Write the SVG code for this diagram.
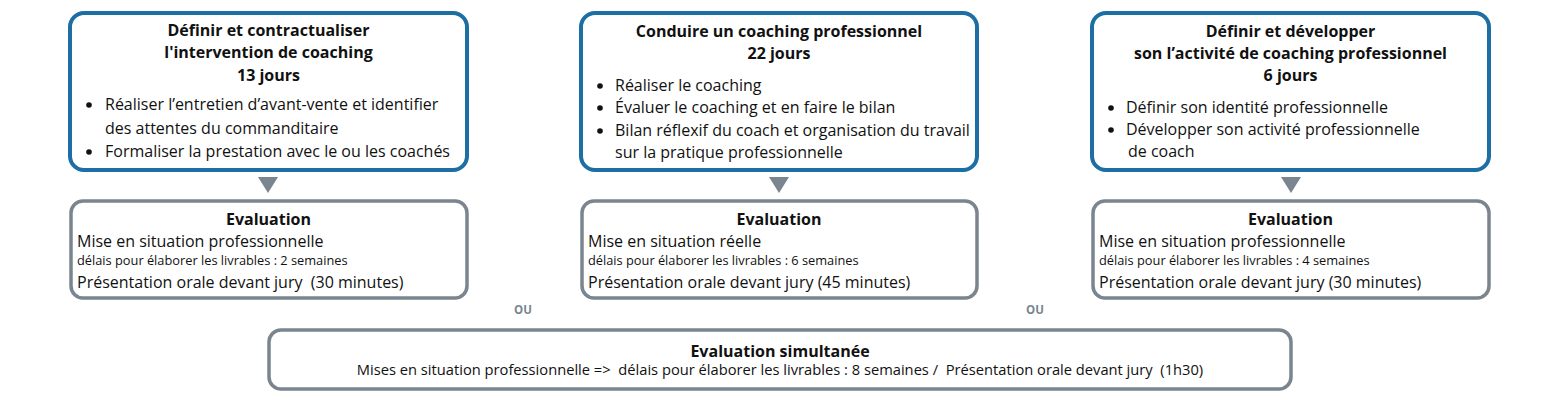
<svg xmlns="http://www.w3.org/2000/svg" width="1560" height="400" viewBox="0 0 1560 400">
<style>
.top{fill:#fff;stroke:#1c6ea4;stroke-width:4}
.ev{fill:#fff;stroke:#7a858f;stroke-width:3.5}
text{font-family:"Open Sans","Noto Sans","Liberation Sans",sans-serif;fill:#111;white-space:pre}
.t{font-size:16px;font-weight:bold;text-anchor:middle}
.b{font-size:16px}
.s{font-size:12.8px}
.ou{font-size:11.5px;font-weight:bold;fill:#7a858f;text-anchor:middle}
.arr{fill:#7a858f}
</style>
<g id="connectors">
<polygon class="arr" points="258,177 278,177 268,193"/>
<polygon class="arr" points="769,177 789,177 779,193"/>
<polygon class="arr" points="1281,177 1301,177 1291,193"/>
</g>
<g id="module1">
<rect class="top" x="70" y="13" width="397" height="157" rx="14"/>
<text class="t" x="268.5" y="36">Définir et contractualiser</text>
<text class="t" x="268.5" y="58">l'intervention de coaching</text>
<text class="t" x="268.5" y="81">13 jours</text>
<circle cx="89" cy="105" r="2.8" fill="#111"/>
<text class="b" x="105" y="110">Réaliser l’entretien d’avant-vente et identifier</text>
<text class="b" x="105" y="134">des attentes du commanditaire</text>
<circle cx="89" cy="152" r="2.8" fill="#111"/>
<text class="b" x="105" y="157">Formaliser la prestation avec le ou les coachés</text>
</g>
<g id="module2">
<rect class="top" x="581" y="13" width="396" height="157" rx="14"/>
<text class="t" x="779" y="37">Conduire un coaching professionnel</text>
<text class="t" x="779" y="59">22 jours</text>
<circle cx="600" cy="86" r="2.8" fill="#111"/>
<text class="b" x="615" y="91">Réaliser le coaching</text>
<circle cx="600" cy="108" r="2.8" fill="#111"/>
<text class="b" x="615" y="113">Évaluer le coaching et en faire le bilan</text>
<circle cx="600" cy="131" r="2.8" fill="#111"/>
<text class="b" x="615" y="136">Bilan réflexif du coach et organisation du travail</text>
<text class="b" x="615" y="158">sur la pratique professionnelle</text>
</g>
<g id="module3">
<rect class="top" x="1092" y="13" width="397" height="157" rx="14"/>
<text class="t" x="1290.5" y="37">Définir et développer</text>
<text class="t" x="1290.5" y="59">son l’activité de coaching professionnel</text>
<text class="t" x="1290.5" y="81">6 jours</text>
<circle cx="1111" cy="108" r="2.8" fill="#111"/>
<text class="b" x="1126" y="113">Définir son identité professionnelle</text>
<circle cx="1111" cy="130" r="2.8" fill="#111"/>
<text class="b" x="1126" y="135">Développer son activité professionnelle</text>
<text class="b" x="1128" y="157">de coach</text>
</g>
<g id="eval1">
<rect class="ev" x="71" y="201" width="396" height="97" rx="12"/>
<text class="t" x="268.5" y="225">Evaluation</text>
<text class="b" x="77" y="247">Mise en situation professionnelle</text>
<text class="s" x="77" y="265">délais pour élaborer les livrables : 2 semaines</text>
<text class="b" x="77" y="288">Présentation orale devant jury  (30 minutes)</text>
</g>
<g id="eval2">
<rect class="ev" x="582" y="201" width="395" height="97" rx="12"/>
<text class="t" x="779" y="225">Evaluation</text>
<text class="b" x="588" y="247">Mise en situation réelle</text>
<text class="s" x="588" y="265">délais pour élaborer les livrables : 6 semaines</text>
<text class="b" x="588" y="288">Présentation orale devant jury (45 minutes)</text>
</g>
<g id="eval3">
<rect class="ev" x="1093" y="201" width="396" height="97" rx="12"/>
<text class="t" x="1290.5" y="225">Evaluation</text>
<text class="b" x="1099" y="247">Mise en situation professionnelle</text>
<text class="s" x="1099" y="265">délais pour élaborer les livrables : 4 semaines</text>
<text class="b" x="1099" y="288">Présentation orale devant jury (30 minutes)</text>
</g>
<g id="ou1"><text class="ou" x="523" y="314">OU</text></g>
<g id="ou2"><text class="ou" x="1035" y="314">OU</text></g>
<g id="evalsim">
<rect class="ev" x="269" y="330" width="1022" height="59" rx="12"/>
<text class="t" x="780" y="357">Evaluation simultanée</text>
<text x="780" y="375" style="font-size:14.7px;text-anchor:middle">Mises en situation professionnelle =&gt;  délais pour élaborer les livrables : 8 semaines /  Présentation orale devant jury  (1h30)</text>
</g>
</svg>
